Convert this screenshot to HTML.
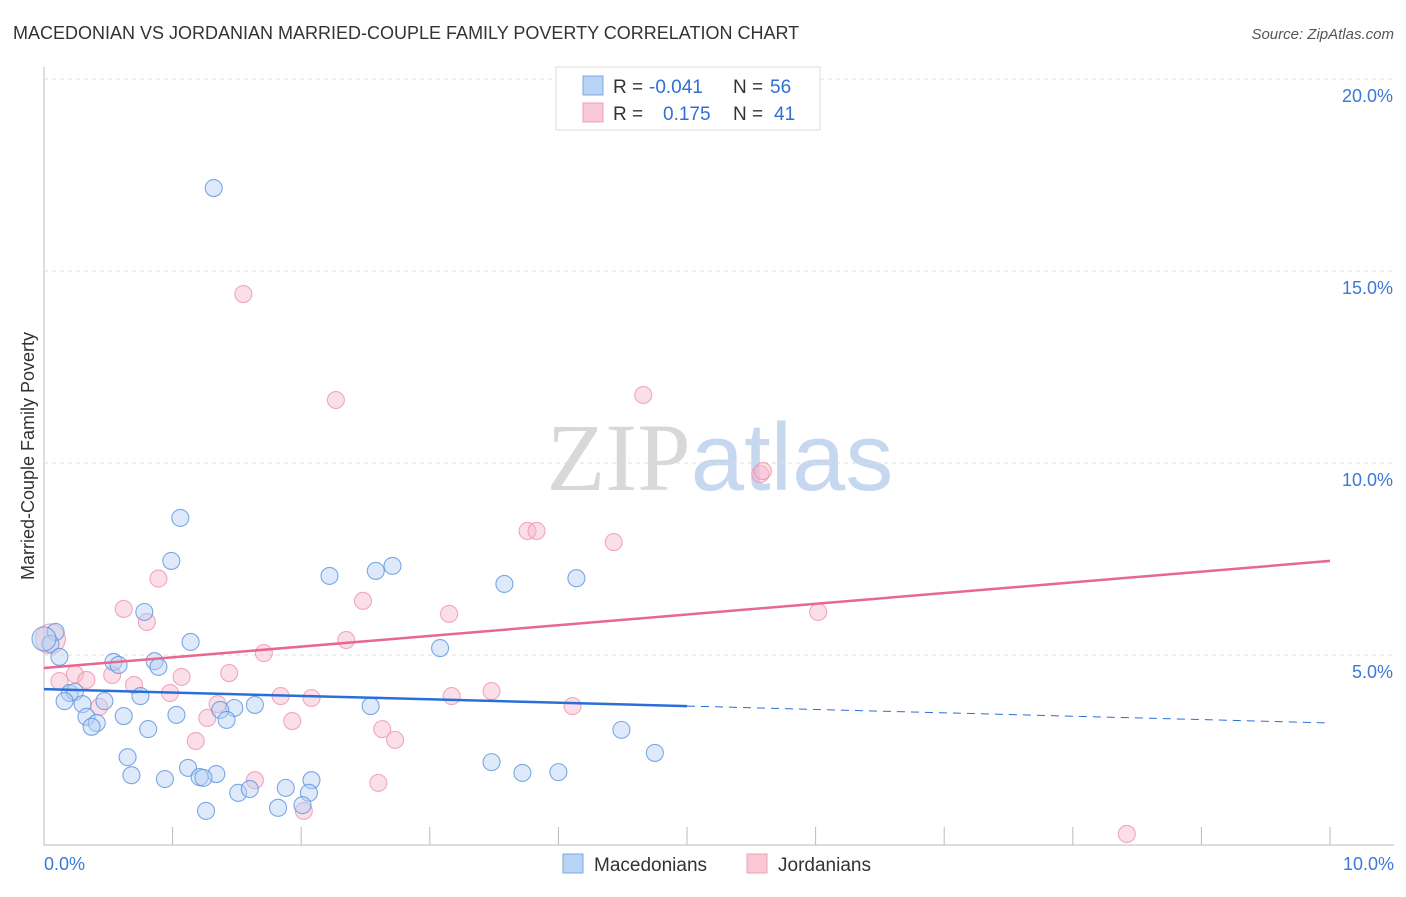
<!DOCTYPE html>
<html><head><meta charset="utf-8"><style>
body{margin:0;background:#fff;font-family:"Liberation Sans",sans-serif;}
svg text{font-family:"Liberation Sans",sans-serif;}
</style></head><body>
<svg id="chart" width="1406" height="892" xmlns="http://www.w3.org/2000/svg">
<text x="13" y="39" font-size="18" fill="#333">MACEDONIAN VS JORDANIAN MARRIED-COUPLE FAMILY POVERTY CORRELATION CHART</text>
<text x="1394" y="39" font-size="15" fill="#555" text-anchor="end" font-style="italic">Source: ZipAtlas.com</text>
<text transform="translate(34,456) rotate(-90)" font-size="18" fill="#333" text-anchor="middle">Married-Couple Family Poverty</text>
<text x="720" y="490" font-size="96" text-anchor="middle"><tspan fill="#d8d8d8" font-family="Liberation Serif">ZIP</tspan><tspan fill="#c5d8ef">atlas</tspan></text>
<g id="grid"></g><g id="pts"></g><g id="lines"></g>
<g>
<rect x="556" y="67" width="264" height="63" fill="#fff" stroke="#ddd"/>
<rect x="583" y="76" width="20" height="19" fill="#b8d3f3" stroke="#7aa9e3"/>
<rect x="583" y="103" width="20" height="19" fill="#f9c8d6" stroke="#eea0b6"/>
<text x="613" y="93" font-size="19" fill="#333">R =</text>
<text x="649" y="93" font-size="19" fill="#2f6fd6">-0.041</text>
<text x="733" y="93" font-size="19" fill="#333">N =</text>
<text x="770" y="93" font-size="19" fill="#2f6fd6">56</text>
<text x="613" y="120" font-size="19" fill="#333">R =</text>
<text x="663" y="120" font-size="19" fill="#2f6fd6">0.175</text>
<text x="733" y="120" font-size="19" fill="#333">N =</text>
<text x="774" y="120" font-size="19" fill="#2f6fd6">41</text>
</g>
<g>
<rect x="563" y="854" width="20" height="19" fill="#b8d3f3" stroke="#7aa9e3"/>
<text x="594" y="871" font-size="19" fill="#333">Macedonians</text>
<rect x="747" y="854" width="20" height="19" fill="#f9c8d6" stroke="#eea0b6"/>
<text x="778" y="871" font-size="19" fill="#333">Jordanians</text>
</g>
</svg>
<script>
const macX=[1.32,1.06,0.99,0.78,1.14,2.22,2.58,2.71,3.58,4.14,3.08,0.09,0.05,0.12,0.54,0.58,0.86,0.89,0.2,0.24,0.16,0.3,0.47,0.75,1.48,1.37,1.64,2.54,0.33,0.41,0.37,0.62,1.03,1.42,0.81,0.65,1.12,0.68,0.94,1.21,1.34,1.24,1.51,1.6,1.88,2.08,2.06,1.82,2.01,1.26,3.48,3.72,4.0,4.49,4.75,0.0];
const macY=[17.16,8.57,7.45,6.12,5.34,7.06,7.19,7.32,6.85,7.0,5.18,5.6,5.29,4.95,4.82,4.74,4.84,4.69,4.01,4.04,3.8,3.72,3.8,3.93,3.62,3.57,3.7,3.67,3.39,3.23,3.13,3.41,3.44,3.31,3.07,2.34,2.06,1.87,1.77,1.82,1.9,1.8,1.41,1.51,1.54,1.74,1.41,1.02,1.09,0.94,2.21,1.93,1.95,3.05,2.45,5.42];
const jorX=[1.55,2.27,4.66,5.57,5.59,3.76,3.83,4.43,0.89,0.62,0.8,2.48,3.15,6.02,2.35,1.71,1.44,1.07,0.53,0.24,0.12,0.33,0.7,0.98,1.84,2.08,3.17,3.48,4.11,0.43,1.35,1.27,1.93,2.63,2.73,1.18,1.64,2.6,2.02,8.42,0.05];
const jorY=[14.4,11.64,11.77,9.71,9.79,8.23,8.23,7.94,6.99,6.2,5.86,6.41,6.07,6.12,5.39,5.05,4.53,4.43,4.48,4.5,4.32,4.35,4.22,4.01,3.93,3.88,3.93,4.06,3.67,3.65,3.72,3.36,3.28,3.07,2.79,2.76,1.74,1.67,0.94,0.34,5.42];
const yTicks=[5,10,15,20];
const xTickLabels=["0.0%","10.0%"];
const macLine=[4.11,3.23], jorLine=[4.66,7.45];
const NS="http://www.w3.org/2000/svg";
const X=v=>44+v*128.6, Y=v=>847-v*38.4;
function mk(tag,attrs,parent){const e=document.createElementNS(NS,tag);for(const k in attrs)e.setAttribute(k,attrs[k]);parent.appendChild(e);return e;}
const grid=document.getElementById('grid'),pts=document.getElementById('pts'),lines=document.getElementById('lines');
const yaxis=mk('line',{x1:44,y1:67,x2:44,y2:845,stroke:'#bbb'},grid);


const xaxis=mk('line',{x1:44,y1:845,x2:1394,y2:845,stroke:'#bbb'},grid);


yTicks.forEach(t=>{
 const g=mk('line',{x1:44,y1:Y(t),x2:1394,y2:Y(t),stroke:'#ddd','stroke-dasharray':'4,4'},grid);
 
 
 const tx=mk('text',{x:1393,y:Y(t)+23,'font-size':18,fill:'#3b78d8','text-anchor':'end'},grid);tx.textContent=t.toFixed(1)+'%';
 
 
});
for(let i=1;i<=10;i++){const tk=mk('line',{x1:X(i),y1:827,x2:X(i),y2:845,stroke:'#bbb'},grid);
 
 }
[[0,44,'start'],[10,1394,'end']].forEach((a,i)=>{const t=mk('text',{x:a[1],y:870,'font-size':18,fill:'#3b78d8','text-anchor':a[2]},grid);t.textContent=xTickLabels[i];
 
 });
function dots(xs,ys,fill,stroke,name){xs.forEach((x,i)=>{const r=(name==='jordanian-point'&&i===xs.length-1)?15:(i===xs.length-1?12:8.5);
 const c=mk('circle',{cx:X(x),cy:Y(ys[i]),r:r,fill:fill,'fill-opacity':0.45,stroke:stroke,'stroke-opacity':0.8,'stroke-width':1.1},pts);
 
 });}
dots(jorX,jorY,'#f7b9cb','#ee94ae','jordanian-point');
dots(macX,macY,'#b5d0f3','#5b93e0','macedonian-point');
const lm=(a,b,x)=>a+(b-a)*x/10;
const l1=mk('line',{x1:X(0),y1:Y(macLine[0]),x2:X(5),y2:Y(lm(macLine[0],macLine[1],5)),stroke:'#2a6fd9','stroke-width':2.5},lines);


const l2=mk('line',{x1:X(5),y1:Y(lm(macLine[0],macLine[1],5)),x2:X(10),y2:Y(macLine[1]),stroke:'#2a6fd9','stroke-width':1,'stroke-dasharray':'8,6'},lines);


const l3=mk('line',{x1:X(0),y1:Y(jorLine[0]),x2:X(10),y2:Y(jorLine[1]),stroke:'#e8668f','stroke-width':2.5},lines);


</script>
</body></html>
